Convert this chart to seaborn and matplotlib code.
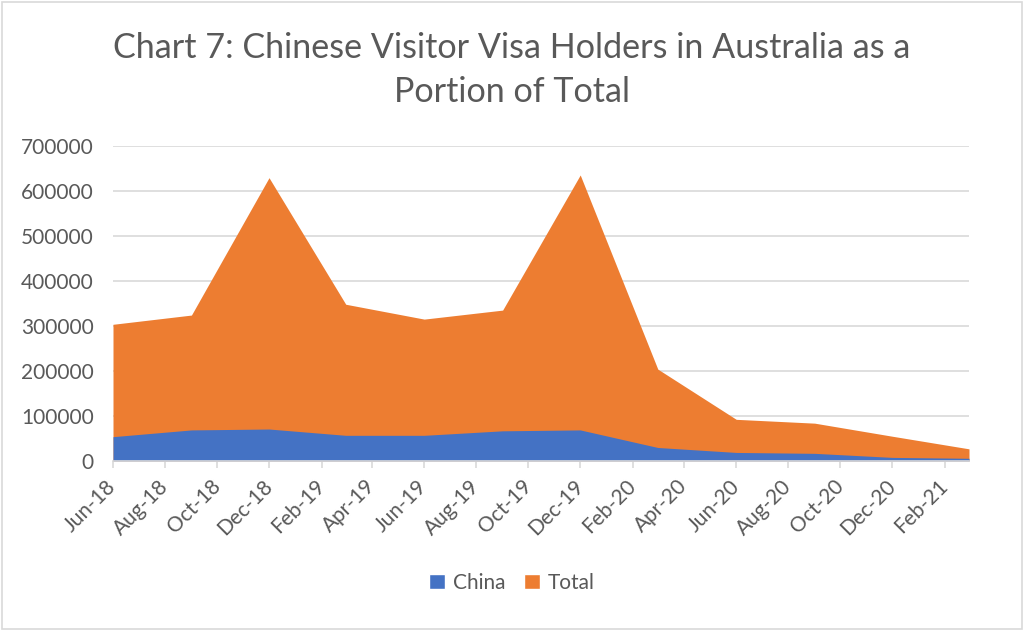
import matplotlib
matplotlib.use("Agg")
import matplotlib.pyplot as plt
import matplotlib.dates as mdates
from matplotlib.patches import Patch, Rectangle
import seaborn as sns
import pandas as pd

# Quarterly snapshots of visitor visa holders in Australia
dates = ["2018-06-01", "2018-09-01", "2018-12-01", "2019-03-01", "2019-06-01",
         "2019-09-01", "2019-12-01", "2020-03-01", "2020-06-01", "2020-09-01",
         "2020-12-01", "2021-03-01"]
china = [54000, 69000, 71000, 57000, 57000, 67000, 69000, 30000, 19000, 17000, 8000, 6000]
total = [303500, 324000, 629000, 348000, 315000, 335000, 635000, 204000, 92500, 84000, 55000, 27000]

title = "Chart 7: Chinese Visitor Visa Holders in Australia as a\nPortion of Total"
series_names = ["China", "Total"]

df = pd.DataFrame({"date": pd.to_datetime(dates), "China": china, "Total": total})

BLUE = "#4472C4"
ORANGE = "#ED7D31"
TEXT = "#595959"
GRID = "#D9D9D9"

sns.set_theme(style="whitegrid")
plt.rcParams["font.family"] = ["Lato", "DejaVu Sans"]

fig = plt.figure(figsize=(10.24, 6.3), dpi=100)
ax = fig.add_axes([113 / 1024, 1 - 461 / 630, 856 / 1024, (461 - 145.7) / 630])

# Total area first, China drawn over it from the baseline
sns.lineplot(data=df, x="date", y="Total", ax=ax, color=ORANGE, linewidth=0)
sns.lineplot(data=df, x="date", y="China", ax=ax, color=BLUE, linewidth=0)
ax.fill_between(df["date"], 0, df["Total"], color=ORANGE, linewidth=0, zorder=2)
ax.fill_between(df["date"], 0, df["China"], color=BLUE, linewidth=0, zorder=3)

ax.set_xlim(pd.Timestamp("2018-06-01"), pd.Timestamp("2021-03-01"))
ax.set_ylim(0, 700000)
ax.set_yticks(range(0, 700001, 100000))
ax.set_yticklabels([f"{v}" for v in range(0, 700001, 100000)])

ax.xaxis.set_major_locator(mdates.MonthLocator(bymonth=[2, 4, 6, 8, 10, 12]))
ax.xaxis.set_major_formatter(mdates.DateFormatter("%b-%y"))

ax.set_xlabel("")
ax.set_ylabel("")
ax.grid(axis="y", color=GRID, linewidth=1.2, zorder=0)
ax.grid(axis="x", visible=False)
ax.set_axisbelow(True)

for side in ["top", "right", "left"]:
    ax.spines[side].set_visible(False)
ax.spines["bottom"].set_color(GRID)
ax.spines["bottom"].set_linewidth(1.2)
ax.spines["bottom"].set_zorder(4)

ax.tick_params(axis="y", length=0, pad=14, labelsize=15, labelcolor=TEXT)
ax.tick_params(axis="x", length=5, width=1.2, color=GRID, direction="out",
               pad=11, labelsize=15, labelcolor=TEXT, bottom=True)
for lbl in ax.get_xticklabels():
    lbl.set_rotation(45)
    lbl.set_ha("right")
    lbl.set_rotation_mode("anchor")
    lbl.set_va("center")

fig.text(0.5, 1 - 70 / 630, title, ha="center", va="center", fontsize=24.6,
         color=TEXT, linespacing=1.5)

handles = [Patch(facecolor=BLUE, label=series_names[0]),
           Patch(facecolor=ORANGE, label=series_names[1])]
leg = fig.legend(handles=handles, loc="center", bbox_to_anchor=(0.5, 1 - 583 / 630),
                 ncol=2, frameon=False, fontsize=15, handlelength=0.75, handleheight=0.75,
                 handletextpad=0.4, columnspacing=0.9)
for t in leg.get_texts():
    t.set_color(TEXT)

# Chart-area border
fig.patches.append(Rectangle((0.002, 0.002), 0.996, 0.995, transform=fig.transFigure,
                             fill=False, edgecolor=GRID, linewidth=1.2))

fig.savefig("out.png", dpi=100)
